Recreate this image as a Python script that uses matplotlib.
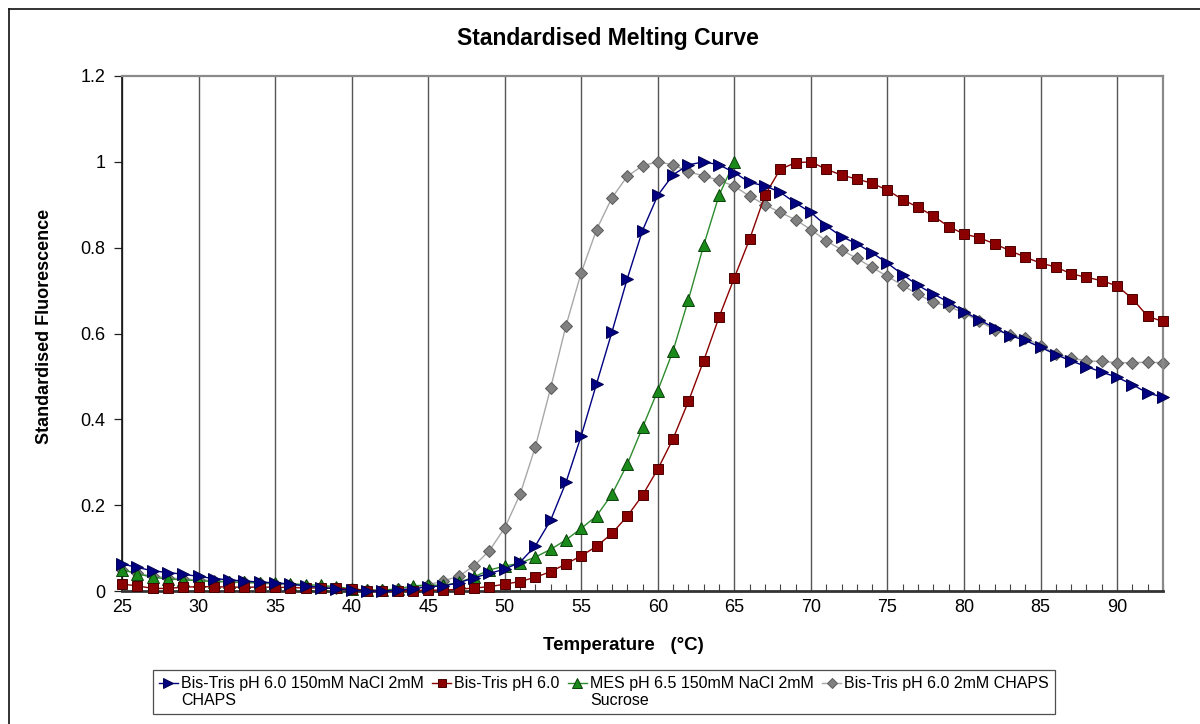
import numpy as np
import matplotlib
matplotlib.use("Agg")
import matplotlib.pyplot as plt
from matplotlib.lines import Line2D

plt.rcParams['font.family'] = ['Liberation Sans', 'DejaVu Sans']

# Temperatures (°C), one reading per degree
temps = list(range(25, 94))
temps_mes = list(range(25, 66))

bistris_nacl_chaps = [
    0.063, 0.055, 0.047, 0.043, 0.039, 0.034, 0.029, 0.026, 0.023, 0.021,
    0.019, 0.016, 0.012, 0.008, 0.005, 0.002, 0.000, 0.000, 0.002, 0.005,
    0.010, 0.012, 0.019, 0.031, 0.041, 0.051, 0.067, 0.105, 0.165, 0.253,
    0.362, 0.483, 0.603, 0.727, 0.840, 0.922, 0.970, 0.993, 1.000, 0.993,
    0.975, 0.952, 0.944, 0.929, 0.904, 0.882, 0.851, 0.826, 0.809, 0.788,
    0.764, 0.737, 0.712, 0.692, 0.673, 0.651, 0.632, 0.613, 0.595, 0.584,
    0.568, 0.551, 0.536, 0.523, 0.510, 0.498, 0.481, 0.461, 0.452,
]

bistris = [
    0.016, 0.012, 0.006, 0.006, 0.009, 0.010, 0.010, 0.009, 0.009, 0.009,
    0.009, 0.008, 0.007, 0.007, 0.006, 0.005, 0.001, 0.001, 0.000, 0.001,
    0.002, 0.002, 0.004, 0.007, 0.010, 0.016, 0.022, 0.032, 0.045, 0.063,
    0.082, 0.104, 0.134, 0.174, 0.223, 0.284, 0.355, 0.442, 0.537, 0.638,
    0.730, 0.820, 0.922, 0.983, 0.998, 1.000, 0.983, 0.969, 0.960, 0.950,
    0.934, 0.912, 0.894, 0.874, 0.849, 0.832, 0.823, 0.809, 0.793, 0.778,
    0.764, 0.755, 0.739, 0.731, 0.723, 0.711, 0.681, 0.640, 0.628,
]

mes_nacl_sucrose = [
    0.050, 0.040, 0.032, 0.028, 0.026, 0.024, 0.022, 0.021, 0.020, 0.019,
    0.018, 0.017, 0.015, 0.013, 0.010, 0.005, 0.002, 0.002, 0.005, 0.012,
    0.014, 0.013, 0.020, 0.033, 0.049, 0.058, 0.065, 0.079, 0.097, 0.119,
    0.146, 0.175, 0.225, 0.295, 0.381, 0.467, 0.560, 0.679, 0.806, 0.922,
    1.000,
]

bistris_chaps = [
    0.049, 0.041, 0.035, 0.031, 0.028, 0.026, 0.024, 0.022, 0.020, 0.018,
    0.016, 0.014, 0.012, 0.010, 0.008, 0.004, 0.002, 0.002, 0.004, 0.008,
    0.014, 0.024, 0.034, 0.059, 0.094, 0.147, 0.225, 0.336, 0.473, 0.618,
    0.742, 0.842, 0.916, 0.966, 0.991, 1.000, 0.993, 0.977, 0.967, 0.957,
    0.943, 0.920, 0.900, 0.882, 0.865, 0.842, 0.816, 0.795, 0.775, 0.754,
    0.733, 0.712, 0.691, 0.673, 0.663, 0.648, 0.628, 0.609, 0.597, 0.589,
    0.572, 0.553, 0.543, 0.536, 0.535, 0.532, 0.532, 0.533, 0.532,
]

labels = [
    "Bis-Tris pH 6.0 150mM NaCl 2mM\nCHAPS",
    "Bis-Tris pH 6.0",
    "MES pH 6.5 150mM NaCl 2mM\nSucrose",
    "Bis-Tris pH 6.0 2mM CHAPS",
]

y_ticks = [0, 0.2, 0.4, 0.6, 0.8, 1.0, 1.2]
y_ticklabels = ["0", "0.2", "0.4", "0.6", "0.8", "1", "1.2"]
x_major = list(range(25, 91, 5))

fig = plt.figure(figsize=(12, 7.24), dpi=100)
ax = fig.add_axes([122 / 1200, 1 - 591 / 724, (1163 - 122) / 1200, (591 - 76) / 724])

series = [
    (temps, bistris_nacl_chaps, '>', '#000080', '#000050', '#000080', 8.0, 5),
    (temps, bistris, 's', '#8b0000', '#4a0000', '#8b0000', 7.5, 4),
    (temps_mes, mes_nacl_sucrose, '^', '#1a8a1a', '#0a400a', '#2e8b2e', 8.0, 3),
    (temps, bistris_chaps, 'D', '#808080', '#5a5a5a', '#a8a8a8', 6.5, 2),
]
handles = []
for (x, y, m, fc, ec, lc, ms, z), lab in zip(series, labels):
    ax.plot(x, y, color=lc, lw=1.0, marker=m, markersize=ms,
            markerfacecolor=fc, markeredgecolor=ec, markeredgewidth=0.7,
            zorder=z, clip_on=False)
    handles.append(Line2D([0], [0], color=lc, lw=1.0, marker=m, markersize=ms * 0.85,
                          markerfacecolor=fc, markeredgecolor=ec,
                          markeredgewidth=0.7))

ax.set_xlim(25, 93)
ax.set_ylim(0, 1.2)

ax.set_xticks(x_major)
ax.set_xticks(range(25, 94), minor=True)
ax.tick_params(axis='x', which='major', direction='in', length=0, pad=6,
               labelsize=13)
ax.tick_params(axis='x', which='minor', direction='in', length=5, width=0.8,
               color='#444444')
ax.set_yticks(y_ticks)
ax.set_yticklabels(y_ticklabels)
ax.tick_params(axis='y', direction='out', length=6, width=0.9, pad=6,
               labelsize=13, color='#222222')

ax.grid(axis='x', which='major', color='#555555', lw=1.0, zorder=0)
ax.set_axisbelow(True)

ax.spines['left'].set_color('#111111')
ax.spines['left'].set_linewidth(1.2)
ax.spines['bottom'].set_color('#333333')
ax.spines['bottom'].set_linewidth(2.0)
ax.spines['top'].set_color('#8a8a8a')
ax.spines['top'].set_linewidth(1.6)
ax.spines['right'].set_color('#8a8a8a')
ax.spines['right'].set_linewidth(1.6)

fig.text(608 / 1200, 1 - 38 / 724, "Standardised Melting Curve",
         ha='center', va='center', fontsize=16.5, fontweight='bold')
fig.text(623 / 1200, 1 - 645 / 724, "Temperature   (°C)",
         ha='center', va='center', fontsize=13.5, fontweight='bold')
fig.text(45 / 1200, 1 - 326 / 724, "Standardised Fluorescence",
         ha='center', va='center', rotation=90, fontsize=13, fontweight='bold')

# single-line entries get an empty second line so every label starts on the top row
leg_fs = 11.5
leg_labels = [lab if "\n" in lab else lab + "\n " for lab in labels]
leg = fig.legend(handles, leg_labels, loc='center', ncol=4,
                 bbox_to_anchor=(604 / 1200, 1 - 692 / 724),
                 fontsize=leg_fs, frameon=True, fancybox=False,
                 edgecolor='#222222', handlelength=1.2, handletextpad=0.2,
                 columnspacing=0.5, borderpad=0.35, labelspacing=0.2)
leg.get_frame().set_linewidth(0.9)
# lift each handle to the first text row
for h in leg.legend_handles:
    yd = np.asarray(h.get_ydata(), dtype=float)
    h.set_ydata(yd + 0.6 * leg_fs)

# outer chart frame (left and top edges)
fig.add_artist(Line2D([9 / 1200, 9 / 1200], [0, 1 - 9 / 724],
                      transform=fig.transFigure, color='#111111', lw=1.2))
fig.add_artist(Line2D([9 / 1200, 1], [1 - 9 / 724, 1 - 9 / 724],
                      transform=fig.transFigure, color='#111111', lw=1.2))

fig.savefig("out.png", dpi=100, facecolor='white')
